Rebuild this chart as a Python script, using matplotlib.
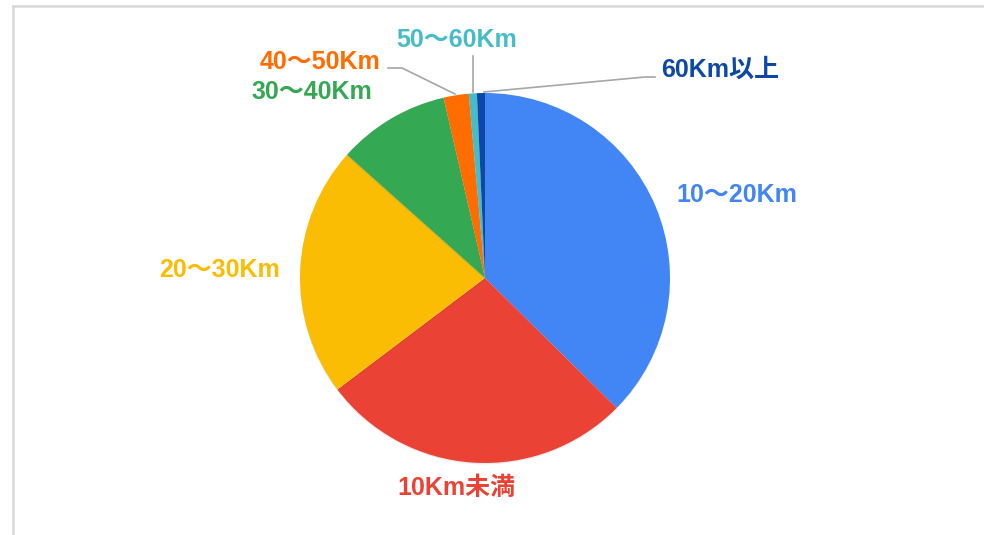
import matplotlib.pyplot as plt
from matplotlib.lines import Line2D
import matplotlib.patheffects as pe

labels = ["10～20Km", "10Km未満", "20～30Km", "30～40Km", "40～50Km", "50～60Km", "60Km以上"]
shares = [37.4, 27.3, 21.9, 9.8, 2.2, 0.7, 0.7]
colors = ["#4285F4", "#EA4335", "#FBBC04", "#34A853", "#FF6D01", "#46BDC6", "#0D47A8"]

# label anchor positions (pixels, origin top-left)
label_pos = [(737, 195), (456, 488), (219, 270), (312, 92), (320, 62), (457, 40), (720, 70)]
W, H = 984, 535

fig = plt.figure(figsize=(W / 100, H / 100), dpi=100)
ax = fig.add_axes([0, 0, 1, 1])

cx, cy, r = 485, H - 278, 185
wedges, _ = ax.pie(shares, colors=colors, startangle=90, counterclock=False,
                   center=(cx, cy), radius=r, frame=True,
                   wedgeprops=dict(linewidth=0))
for w in wedges:
    w.set_path_effects([pe.SimplePatchShadow(offset=(0, -1), shadow_rgbFace="#000000", alpha=0.08),
                        pe.Normal()])
ax.set_xlim(0, W)
ax.set_ylim(0, H)
ax.set_aspect("equal")
ax.axis("off")

font = ["Liberation Sans", "Noto Sans CJK JP", "DejaVu Sans"]
for lab, (x, y), c in zip(labels, label_pos, colors):
    ax.text(x, H - y, lab, color=c, fontsize=18, fontweight="bold",
            family=font, ha="center", va="center")

# leader lines
lc = "#a6a6a6"
ax.plot([388, 402, 455], [H - 68, H - 68, H - 94], color=lc, lw=1.2)
ax.plot([473, 473], [H - 56, H - 92], color=lc, lw=1.2)
ax.plot([655, 645, 484], [H - 77, H - 77, H - 92], color=lc, lw=1.2)

# light frame at top and left
fig.add_artist(Line2D([13 / W, 1], [1 - 6 / H, 1 - 6 / H], color="#d9d9d9", lw=1.8))
fig.add_artist(Line2D([13 / W, 13 / W], [0, 1 - 6 / H], color="#d9d9d9", lw=1.8))

fig.savefig("out.png", dpi=100)
